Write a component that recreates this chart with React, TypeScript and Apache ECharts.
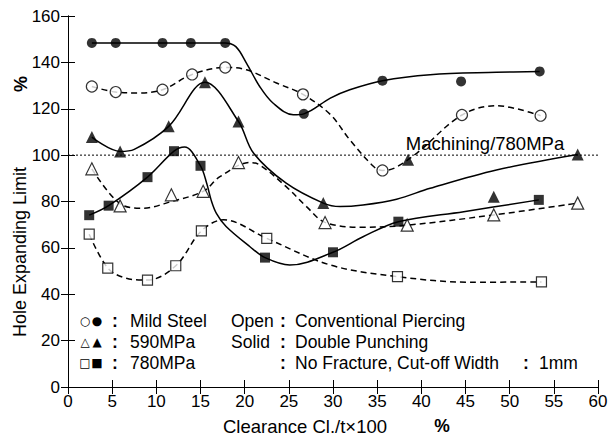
import React, { useEffect, useRef } from "react";
import * as echarts from "echarts";

// Markers (measured values)
const mildSolid = [[2.7,148.4],[5.4,148.4],[10.7,148.4],[13.9,148.4],[17.8,148.4],[26.7,117.8],[35.6,132.1],[44.5,131.8],[53.4,136.1]];
const mildOpen = [[2.7,129.6],[5.4,127.2],[10.7,128.2],[14.05,134.8],[17.8,137.8],[26.6,126.2],[35.6,93.4],[44.6,117.3],[53.5,117.0]];
const m590Solid = [[2.7,107.8],[5.9,101.6],[11.4,112.4],[15.5,131.4],[19.3,114.5],[28.9,79.3],[38.5,98],[48.2,82.1],[57.7,100.3]];
const m590Open = [[2.7,94.1],[5.9,78.1],[11.7,82.9],[15.3,84.4],[19.3,96.8],[29.1,70.9],[38.4,69.8],[48.2,74.2],[57.7,79.3]];
const m780Solid = [[2.4,74.1],[4.6,78.2],[9.0,90.5],[12.0,101.7],[15.0,95.4],[22.3,55.8],[30.0,58.1],[37.4,71.3],[53.3,80.7]];
const m780Open = [[2.4,65.9],[4.5,51.3],[9.0,46.1],[12.2,52.3],[15.1,67.3],[22.5,64.1],[37.3,47.6],[53.6,45.3]];

// Fitted curves
const mildSolidCurve = [[2.7,148.4],[10,148.4],[17.8,148.4],[19,146.8],[20.2,139.7],[21.7,129.6],[23.2,122.5],[25.5,117.4],[26.7,117.8],[29.7,124.6],[31.9,128.2],[35.6,132.1],[41,134.7],[48.5,135.7],[53.4,136.1]];
const mildOpenCurve = [[2.7,129.6],[5.4,127.2],[8,126.8],[10.7,128.2],[14.05,134.8],[17.8,137.8],[20.2,136.8],[23.6,131.1],[26.6,126.2],[29.7,117.5],[31.9,106.6],[34.6,95.1],[35.6,93.4],[37,94.5],[39.5,100.9],[44.6,117.3],[48.5,121.3],[53.5,117]];
const m590SolidCurve = [[2.7,107.8],[5.9,101.6],[7.5,102.5],[11.4,112.4],[15.5,131.4],[19.3,114.5],[21,100.9],[24.7,87.9],[28.9,79.3],[30.8,77.8],[33.4,78.5],[37.2,81],[41,85.7],[48.5,93.6],[57.7,100.3]];
const m590OpenCurve = [[2.7,94.1],[5.9,79],[8.5,77.1],[11.7,80],[15.3,84.4],[17.2,90.7],[20.6,96.8],[21.7,95.8],[24.7,86.4],[27,77.8],[29.1,71],[33.4,68.9],[38.4,69.8],[48.2,74.2],[57.7,79.3]];
const m780SolidCurve = [[2.4,74.1],[4.6,78.2],[9,90.5],[12,101.7],[13.2,103.5],[15,95.4],[15.7,87.9],[16.2,80.7],[16.8,74.9],[17.9,69.2],[20.6,60.5],[22.3,55.8],[25.1,52.6],[30,58.1],[33.4,64.8],[37.4,71.3],[44.8,75.6],[53.3,80.7]];
const m780OpenCurve = [[2.4,65.9],[4.5,51.3],[6.6,46.9],[9,46.1],[12.2,52.3],[15.1,67.3],[17.6,72.1],[22.5,64.1],[29.7,52.6],[37.3,47.6],[45.5,45.2],[53.6,45.3]];

const machiningLine = [[0, 100], [60, 100]];

const xMin = 0, xMax = 60, xStep = 5;
const yMin = 0, yMax = 160, yStep = 20;

const legendRows = [
  { open: "○", solid: "●", label: "Mild Steel" },
  { open: "△", solid: "▲", label: "590MPa" },
  { open: "□", solid: "■", label: "780MPa" },
];
const noteRows = [
  { key: "Open", text: "Conventional Piercing" },
  { key: "Solid", text: "Double Punching" },
  { key: "", text: "No Fracture, Cut-off Width" },
];

const FONT = "'Liberation Sans', Arial, Helvetica, sans-serif";

export default function App() {
  const ref = useRef<HTMLDivElement>(null);
  useEffect(() => {
    document.body.style.margin = "0";
    if (!ref.current) return;
    const chart = echarts.init(ref.current, null, { renderer: "svg" });

    const curve = (data: number[][], dashed: boolean) => ({
      type: "line",
      data,
      smooth: 0.35,
      showSymbol: false,
      symbol: "none",
      lineStyle: { color: "#000", width: 1.5, type: dashed ? [6, 4] : "solid" },
      z: 2,
      silent: true,
    });
    const marks = (data: number[][], symbol: string, size: number, filled: boolean) => ({
      type: "scatter",
      data,
      symbol,
      symbolSize: size,
      itemStyle: { color: filled ? "#000" : "#fff", borderColor: "#000", borderWidth: filled ? 0 : 1.2 },
      z: 5,
      silent: true,
    });

    const txt = (x: number, y: number, text: string, opts: any = {}) => ({
      type: "text",
      x,
      y,
      style: {
        text,
        fill: "#000",
        font: `${opts.weight || "normal"} ${opts.size || 17.5}px ${opts.family || FONT}`,
        textAlign: opts.align || "left",
        textVerticalAlign: "middle",
      },
      rotation: opts.rotation || 0,
      z: 10,
    });

    const rowY = [321, 342, 363];
    const graphics: any[] = [];
    legendRows.forEach((r, i) => {
      graphics.push(txt(85, rowY[i], r.open, { size: 12, align: "center", family: "'DejaVu Sans', sans-serif" }));
      graphics.push(txt(97, rowY[i], r.solid, { size: 12, align: "center", family: "'DejaVu Sans', sans-serif" }));
      graphics.push(txt(115, rowY[i], ":", { align: "center", weight: "bold" }));
      graphics.push(txt(130, rowY[i], r.label));
    });
    noteRows.forEach((r, i) => {
      if (r.key) graphics.push(txt(231, rowY[i], r.key));
      graphics.push(txt(283, rowY[i], ":", { align: "center", weight: "bold" }));
      graphics.push(txt(295, rowY[i], r.text));
    });
    graphics.push(txt(526, rowY[2], ":", { align: "center", weight: "bold" }));
    graphics.push(txt(539, rowY[2], "1mm"));
    graphics.push(txt(485, 143, "Machining/780MPa", { align: "center", size: 18.5 }));
    graphics.push(txt(305, 426, "Clearance Cl./t×100", { align: "center", size: 18.5 }));
    graphics.push(txt(442, 426, "%", { align: "center", weight: "bold" }));
    graphics.push(txt(20, 252, "Hole Expanding Limit", { align: "center", rotation: Math.PI / 2, size: 18 }));
    graphics.push(txt(21, 84, "%", { align: "center", rotation: Math.PI / 2, weight: "bold", size: 18 }));

    const axisCommon = {
      type: "value",
      axisLine: { show: true, lineStyle: { color: "#000", width: 1 } },
      axisTick: { show: true, inside: true, length: 7, lineStyle: { color: "#000" } },
      splitLine: { show: false },
    };

    chart.setOption({
      animation: false,
      backgroundColor: "#fff",
      grid: { left: 68, right: 13, top: 16, bottom: 50, containLabel: false },
      xAxis: [
        { ...axisCommon, min: xMin, max: xMax, interval: xStep, position: "bottom",
          axisLabel: { color: "#000", fontSize: 17, fontFamily: FONT, margin: 6 } },
        { ...axisCommon, min: xMin, max: xMax, interval: xStep, position: "top", axisLabel: { show: false } },
      ],
      yAxis: [
        { ...axisCommon, min: yMin, max: yMax, interval: yStep, position: "left",
          axisLabel: { color: "#000", fontSize: 17, fontFamily: FONT, margin: 8 } },
        { ...axisCommon, min: yMin, max: yMax, interval: yStep, position: "right", axisLabel: { show: false } },
      ],
      series: [
        { type: "line", data: machiningLine, symbol: "none", lineStyle: { color: "#000", width: 1, type: [2, 2] }, z: 1, silent: true },
        curve(mildSolidCurve, false),
        curve(mildOpenCurve, true),
        curve(m590SolidCurve, false),
        curve(m590OpenCurve, true),
        curve(m780SolidCurve, false),
        curve(m780OpenCurve, true),
        marks(mildSolid, "circle", 10, true),
        marks(mildOpen, "circle", 11, false),
        marks(m590Solid, "triangle", 12, true),
        marks(m590Open, "triangle", 12, false),
        marks(m780Solid, "rect", 10, true),
        marks(m780Open, "rect", 10, false),
      ],
      graphic: graphics,
    });
    return () => chart.dispose();
  }, []);
  return <div ref={ref} style={{ width: 611, height: 437 }} />;
}
